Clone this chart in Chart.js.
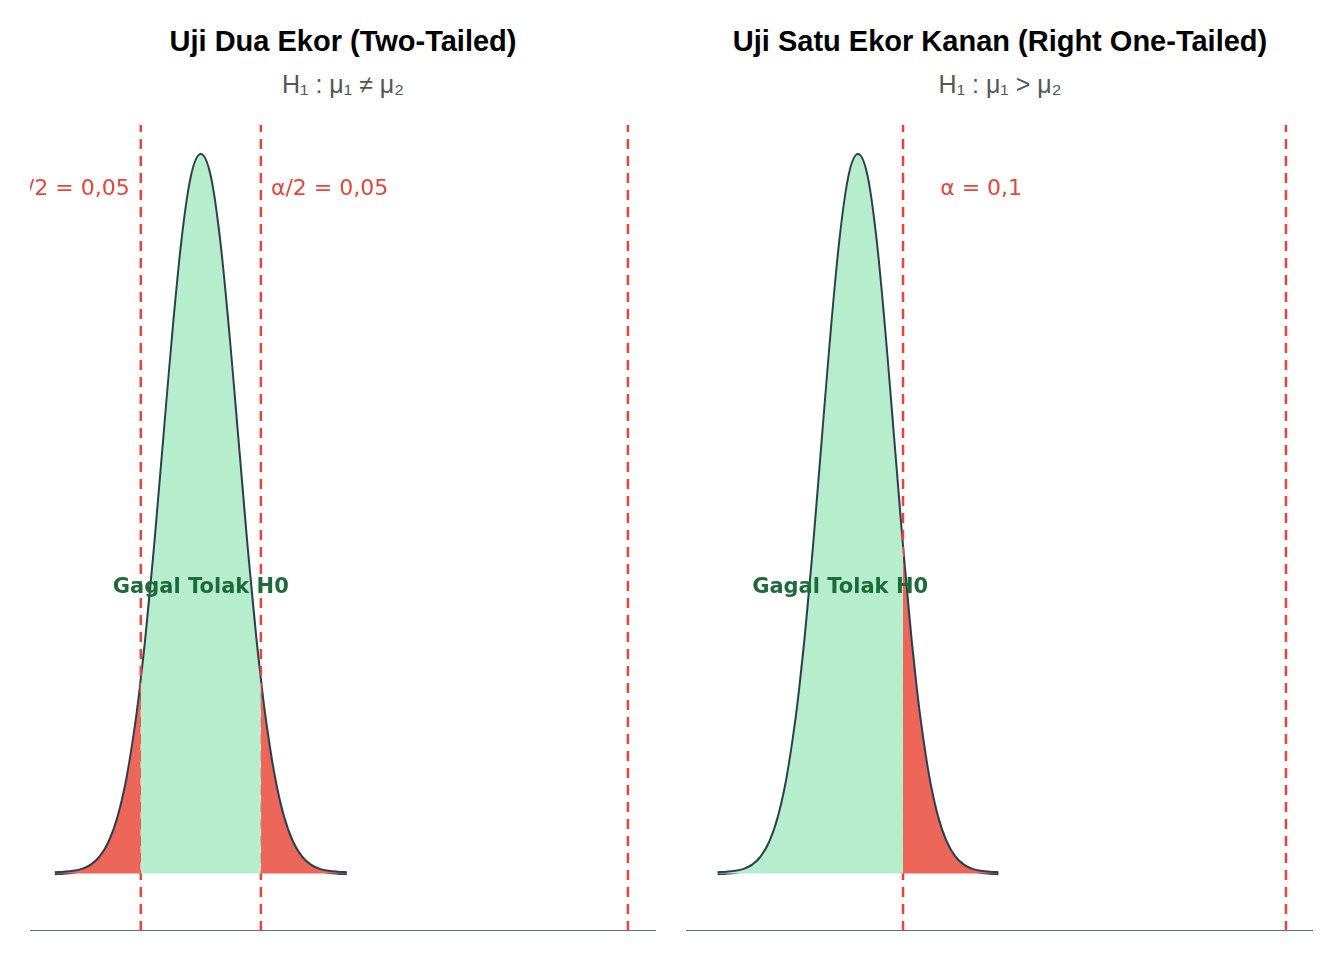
<!DOCTYPE html>
<html><head><meta charset="utf-8">
<script src="https://cdn.jsdelivr.net/npm/chart.js@4.4.1/dist/chart.umd.min.js"></script>
<style>
body{margin:0;background:#fff;width:1344px;height:960px;position:relative;overflow:hidden;font-family:"Liberation Sans",Arial,sans-serif}
.t{position:absolute;font-weight:bold;font-size:29px;color:#000;text-align:center;width:672px}
.s{position:absolute;font-size:25px;color:#555;text-align:center;width:672px}
canvas{position:absolute}
</style></head><body>
<div class="t" style="left:7px;top:25px">Uji Dua Ekor (Two-Tailed)</div>
<div class="s" style="left:7px;top:70px">H₁ : μ₁ ≠ μ₂</div>
<div class="t" style="left:664px;top:25px">Uji Satu Ekor Kanan (Right One-Tailed)</div>
<div class="s" style="left:664px;top:70px">H₁ : μ₁ &gt; μ₂</div>
<div style="position:absolute;left:30px;top:125px;width:626px;height:806px"><canvas id="c1"></canvas></div>
<div style="position:absolute;left:686px;top:125px;width:627px;height:806px"><canvas id="c2"></canvas></div>
<script>
// density values read at grid points
const zGrid = [-4,-3.75,-3.5,-3.25,-3,-2.75,-2.5,-2.25,-2,-1.75,-1.645,-1.5,-1.282,-1.25,-1,-0.75,-0.5,-0.25,0,0.25,0.5,0.75,1,1.25,1.282,1.5,1.645,1.75,2,2.25,2.5,2.75,3,3.25,3.5,3.75,4];
const dens  = [0.0001,0.0004,0.0009,0.0020,0.0044,0.0091,0.0175,0.0317,0.0540,0.0863,0.1031,0.1295,0.1755,0.1826,0.2420,0.3011,0.3521,0.3867,0.3989,0.3867,0.3521,0.3011,0.2420,0.1826,0.1755,0.1295,0.1031,0.0863,0.0540,0.0317,0.0175,0.0091,0.0044,0.0020,0.0009,0.0004,0.0001];
const twoCrit = [-1.645, 1.645];
const twoStat = 11.7;
const oneCrit = 1.282;
const oneStat = 12.19;
const alphaTwo = "α/2 = 0,05";
const alphaOne = "α = 0,1";
const midLabel = "Gagal Tolak H0";

const pts = zGrid.map((x,i)=>({x, y:dens[i]}));
const seg = (a,b)=>pts.filter(p=>p.x>=a-1e-9 && p.x<=b+1e-9);
const YMIN=-0.032, YMAX=0.4156;
const GREEN='#b5edcd', RED='#ec6759', LINE='#2c3e50', DASH='#e8443a';

function area(data,color){return {data,fill:'origin',backgroundColor:color,borderWidth:0,pointRadius:0,cubicInterpolationMode:'monotone',clip:false};}
function vline(x){return {data:[{x,y:YMIN},{x,y:YMAX}],borderColor:DASH,borderWidth:2.5,borderDash:[10,7],pointRadius:0,fill:false,clip:false};}

const labelPlugin = {id:'lbl',afterDatasetsDraw(chart,args,opts){
  const {ctx,scales:{x,y}}=chart;
  ctx.save();
  opts.items.forEach(it=>{
    ctx.font=it.font; ctx.fillStyle=it.color; ctx.textAlign=it.align; ctx.textBaseline='middle';
    ctx.fillText(it.text,x.getPixelForValue(it.x),y.getPixelForValue(it.y));
  });
  ctx.restore();
}};

function make(id,xmin,xmax,sets,items){
  const ds=[...sets,
    {data:pts,borderColor:LINE,borderWidth:4,pointRadius:0,fill:false,cubicInterpolationMode:'monotone',clip:false},
    {data:[{x:xmin,y:YMIN},{x:xmax,y:YMIN}],borderColor:LINE,borderWidth:1.5,pointRadius:0,fill:false,clip:false}];
  new Chart(document.getElementById(id),{type:'line',data:{datasets:ds},
    options:{responsive:true,maintainAspectRatio:false,animation:false,
      layout:{padding:0},
      scales:{x:{type:'linear',min:xmin,max:xmax,display:false},y:{min:YMIN,max:YMAX,display:false}},
      plugins:{legend:{display:false},tooltip:{enabled:false},lbl:{items}}},
    plugins:[labelPlugin]});
}
const f1='22px "DejaVu Sans", sans-serif';
const fb='bold 21px "DejaVu Sans", sans-serif';
make('c1',-4.68,12.47,[
  area(seg(-4,twoCrit[0]),RED),area(seg(twoCrit[0],twoCrit[1]),GREEN),area(seg(twoCrit[1],4),RED),
  vline(twoCrit[0]),vline(twoCrit[1]),vline(twoStat)],
  [{text:alphaTwo,x:-1.95,y:0.38,align:'right',font:f1,color:DASH},
   {text:alphaTwo,x:1.92,y:0.38,align:'left',font:f1,color:DASH},
   {text:midLabel,x:0,y:0.159,align:'center',font:fb,color:'#1e6b3a'}]);
make('c2',-4.90,12.96,[
  area(seg(-4,oneCrit),GREEN),area(seg(oneCrit,4),RED),
  vline(oneCrit),vline(oneStat)],
  [{text:alphaOne,x:2.34,y:0.38,align:'left',font:f1,color:DASH},
   {text:midLabel,x:-0.51,y:0.159,align:'center',font:fb,color:'#1e6b3a'}]);
</script></body></html>
